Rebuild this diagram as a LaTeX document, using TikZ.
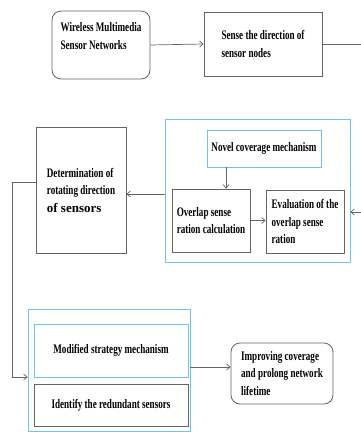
\documentclass[tikz,border=0pt]{standalone}
\usepackage{fontspec}
\setmainfont{Liberation Serif}[FakeStretch=0.7]
\newfontfamily\widebold{Liberation Serif}
\usepackage{tikz}
\usetikzlibrary{arrows.meta,positioning,calc}
\usepackage{xcolor}
\definecolor{frame}{RGB}{100,100,100}
\definecolor{groupblue}{RGB}{110,195,230}

\begin{document}
\begin{tikzpicture}[
  x=1pt, y=-1pt,
  box/.style={draw=frame, line width=0.8pt, align=left, inner sep=2pt,
    font=\fontsize{13}{17.5}\selectfont\bfseries},
  roundbox/.style={box, rounded corners=9pt},
  bluebox/.style={box, draw=groupblue},
  group/.style={draw=groupblue, line width=0.8pt, inner sep=0pt},
  link/.style={draw=frame, line width=0.7pt},
  arr/.style={link, -{Straight Barb[length=3.5pt,width=6pt]}},
]
\useasboundingbox (0,0) rectangle (361,432);

% top row
\node[roundbox, minimum width=98, minimum height=68] (wmsn) at (101,45)
  {Wireless Multimedia\\Sensor Networks\\[1pt]};
\node[box, minimum width=118, minimum height=64] (sense) at (263,44)
  {Sense the direction of\\sensor nodes};

% middle row
\node[group, minimum width=185, minimum height=143] (novelgrp) at (257.5,190.5) {};
\node[bluebox, minimum width=114, minimum height=37] (novel) at (264,148.5)
  {Novel coverage mechanism};
\node[box, minimum width=78, minimum height=63] (overlap) at (211,220.5)
  {Overlap sense\\ration calculation};
\node[box, minimum width=78, minimum height=63] (eval) at (305,221.5)
  {Evaluation of the\\overlap sense\\ration};
\node[box, minimum width=90, minimum height=126] (det) at (81,190)
  {Determination of\\rotating direction\\{\widebold\bfseries of sensors}};

% bottom row
\node[group, minimum width=162, minimum height=122] (modgrp) at (109,370) {};
\node[bluebox, minimum width=154, minimum height=53] (modified) at (111,350.5)
  {Modified strategy mechanism};
\node[box, minimum width=154, minimum height=42] (identify) at (111,405)
  {Identify the redundant sensors};
\node[roundbox, minimum width=102, minimum height=61] (improve) at (282,373.5)
  {Improving coverage\\and prolong network\\lifetime};

% connectors
\coordinate (edge1) at (361,44);
\coordinate (edge2) at (361,212);
\coordinate (turn) at (12,377);
\draw[arr] (wmsn.east) -- (sense.west);
\draw[link] (sense.east) -- (edge1);
\draw[arr] (edge2) -- (edge2 -| novelgrp.east);
\draw[arr] ([xshift=15pt]overlap.north |- novel.south) -- ([xshift=15pt]overlap.north);
\draw[arr] (overlap.east) -- (overlap.east -| eval.west);
\draw[arr] ([yshift=-3.5pt]novelgrp.west) -- ([yshift=-3.5pt]novelgrp.west -| det.east);
\draw[arr] ([yshift=8pt]det.west) -| (turn) -- (turn -| modgrp.west);
\draw[arr] ([yshift=3pt]modgrp.east) -- ([yshift=3pt]modgrp.east -| improve.west);
\end{tikzpicture}
\end{document}
